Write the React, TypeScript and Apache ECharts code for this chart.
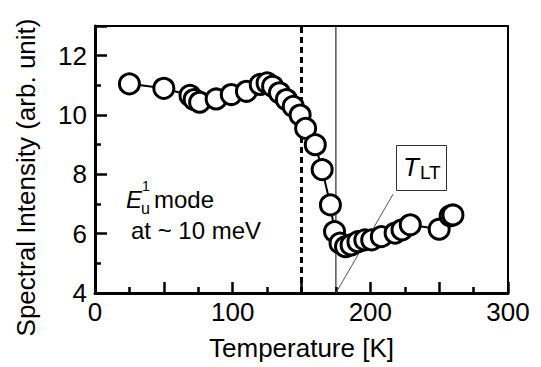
import React, { useEffect, useRef } from "react";
import * as echarts from "echarts";

const temperatures = [25, 50, 69, 72, 76, 88, 99, 110, 120, 125, 129, 134, 139, 144, 149, 153, 160, 165, 171, 174, 178, 182, 186, 191, 196, 201, 208, 218, 223, 229, 250, 258, 260];
const intensities = [11.05, 10.9, 10.66, 10.52, 10.43, 10.54, 10.69, 10.8, 11.03, 11.08, 10.97, 10.75, 10.52, 10.29, 10.0, 9.55, 9.0, 8.16, 6.97, 6.07, 5.68, 5.56, 5.62, 5.73, 5.79, 5.79, 5.9, 6.02, 6.13, 6.3, 6.15, 6.6, 6.63];
const xTickLabels = [0, 100, 200, 300];
const yTickLabels = [4, 6, 8, 10, 12];
const dottedLineT = 150;
const tLT = 175;
const pointerEnd = [216.5, 7.33];
const yRange = [4, 13];

const FONT = "Liberation Sans, Arial, sans-serif";

function label(text: string, left: number, top: number, fontSize: number, italic = false) {
  return {
    text,
    left,
    top,
    padding: 0,
    textStyle: {
      color: "#000",
      fontSize,
      fontFamily: FONT,
      fontWeight: "normal",
      fontStyle: italic ? "italic" : "normal",
    },
  };
}

export default function App() {
  const ref = useRef<HTMLDivElement>(null);
  useEffect(() => {
    if (!ref.current) return;
    const chart = echarts.init(ref.current, null, { renderer: "svg" });
    const data = temperatures.map((t, i) => [t, intensities[i]]);
    chart.setOption({
      animation: false,
      backgroundColor: "#ffffff",
      grid: {
        left: 95,
        right: 33,
        top: 26,
        bottom: 74,
        show: true,
        borderColor: "#000",
        borderWidth: 2,
      },
      title: [
        label("E", 126, 187, 24, true),
        label("u", 141, 200, 16),
        label("1", 142, 179, 14),
        label("mode", 154, 187, 24),
        label("at ~ 10 meV", 131, 218, 24),
        {
          text: "{t|T}{s|LT}",
          left: 396,
          top: 143,
          padding: [9, 6, 9, 7],
          borderColor: "#333",
          borderWidth: 1,
          backgroundColor: "#fff",
          textStyle: {
            color: "#000",
            fontFamily: FONT,
            fontWeight: "normal",
            rich: {
              t: { fontSize: 26, fontStyle: "italic", fontFamily: FONT, color: "#000", lineHeight: 30 },
              s: { fontSize: 19, fontFamily: FONT, color: "#000", lineHeight: 19, verticalAlign: "bottom", padding: [0, 0, 0, 1] },
            },
          },
        },
      ],
      xAxis: {
        type: "value",
        min: 0,
        max: 300,
        interval: 50,
        splitLine: { show: false },
        axisLine: { show: true, onZero: false, lineStyle: { color: "#000", width: 3 } },
        axisTick: { show: true, inside: true, length: 11, lineStyle: { color: "#000", width: 2.5 } },
        minorTick: { show: true, splitNumber: 2, length: 6, lineStyle: { color: "#000", width: 2.5 } },
        axisLabel: {
          show: true,
          color: "#000",
          fontSize: 26,
          fontFamily: FONT,
          margin: 6,
          formatter: (v: number) => (xTickLabels.includes(v) ? String(v) : ""),
        },
        name: "Temperature [K]",
        nameLocation: "middle",
        nameGap: 42,
        nameTextStyle: { color: "#000", fontSize: 26, fontFamily: FONT },
      },
      yAxis: {
        type: "value",
        min: yRange[0],
        max: yRange[1],
        interval: 2,
        splitLine: { show: false },
        axisLine: { show: true, onZero: false, lineStyle: { color: "#000", width: 3 } },
        axisTick: { show: true, inside: true, length: 12, lineStyle: { color: "#000", width: 2.5 } },
        minorTick: { show: true, splitNumber: 2, length: 6, lineStyle: { color: "#000", width: 2.5 } },
        axisLabel: {
          show: true,
          color: "#000",
          fontSize: 26,
          fontFamily: FONT,
          margin: 8,
          formatter: (v: number) => (yTickLabels.includes(v) ? String(v) : ""),
        },
        name: "Spectral Intensity (arb. unit)",
        nameLocation: "middle",
        nameRotate: 90,
        nameGap: 56,
        nameTextStyle: { color: "#000", fontSize: 26, fontFamily: FONT, padding: [0, 36, 0, 0] },
      },
      series: [
        {
          type: "line",
          data: [[dottedLineT, yRange[0]], [dottedLineT, yRange[1]]],
          symbol: "none",
          silent: true,
          z: 3,
          lineStyle: { color: "#000", width: 3, type: [6, 4] },
        },
        {
          type: "line",
          data: [[tLT, yRange[0]], [tLT, yRange[1]]],
          symbol: "none",
          silent: true,
          z: 3,
          lineStyle: { color: "#000", width: 1 },
        },
        {
          type: "line",
          data: [[tLT, yRange[0]], pointerEnd],
          symbol: "none",
          silent: true,
          z: 3,
          lineStyle: { color: "#555", width: 1 },
        },
        {
          type: "line",
          data,
          symbol: "circle",
          symbolSize: 20,
          showAllSymbol: true,
          itemStyle: { color: "#fff", borderColor: "#000", borderWidth: 3 },
          lineStyle: { color: "#000", width: 2 },
          z: 5,
        },
      ],
    });
    return () => chart.dispose();
  }, []);
  return <div ref={ref} style={{ position: "fixed", left: 0, top: 0, width: 541, height: 367 }} />;
}
